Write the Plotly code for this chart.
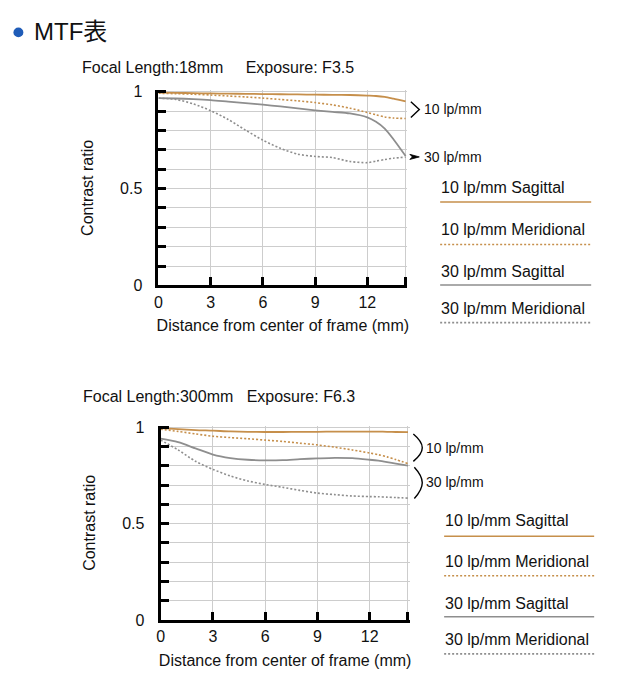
import plotly.graph_objects as go

W, H = 619, 700

# ---------------- data ----------------
distance = [0, 1, 2, 3, 4, 5, 6, 7, 8, 9, 10, 11, 12, 12.5, 13, 13.5, 14.2]

# Focal length 18mm, F3.5
wide_10_sag = [0.995, 0.994, 0.993, 0.991, 0.990, 0.989, 0.988, 0.987, 0.986, 0.985, 0.984, 0.983, 0.980, 0.978, 0.973, 0.964, 0.950]
wide_10_mer = [0.992, 0.990, 0.987, 0.983, 0.978, 0.973, 0.967, 0.960, 0.953, 0.944, 0.932, 0.915, 0.893, 0.881, 0.870, 0.864, 0.862]
wide_30_sag = [0.967, 0.965, 0.962, 0.957, 0.949, 0.941, 0.933, 0.924, 0.914, 0.904, 0.896, 0.888, 0.868, 0.845, 0.810, 0.755, 0.668]
wide_30_mer = [0.967, 0.960, 0.937, 0.902, 0.857, 0.802, 0.750, 0.708, 0.678, 0.666, 0.660, 0.640, 0.634, 0.642, 0.650, 0.657, 0.662]

# Focal length 300mm, F6.3
tele_10_sag = [0.995, 0.990, 0.985, 0.982, 0.978, 0.976, 0.975, 0.975, 0.976, 0.976, 0.977, 0.977, 0.977, 0.977, 0.976, 0.975, 0.974]
tele_10_mer = [0.990, 0.978, 0.965, 0.953, 0.946, 0.940, 0.933, 0.926, 0.917, 0.908, 0.896, 0.882, 0.866, 0.857, 0.846, 0.832, 0.811]
tele_30_sag = [0.940, 0.922, 0.890, 0.858, 0.840, 0.831, 0.828, 0.829, 0.834, 0.838, 0.841, 0.839, 0.831, 0.826, 0.819, 0.811, 0.800]
tele_30_mer = [0.933, 0.882, 0.823, 0.781, 0.747, 0.721, 0.703, 0.688, 0.672, 0.658, 0.650, 0.643, 0.640, 0.639, 0.637, 0.635, 0.632]

series_names = ["10 lp/mm Sagittal", "10 lp/mm Meridional", "30 lp/mm Sagittal", "30 lp/mm Meridional"]
x_tick_vals = [0, 3, 6, 9, 12, 14.2]
x_tick_text = ["0", "3", "6", "9", "12", ""]
y_tick_vals = [0, 0.1, 0.2, 0.3, 0.4, 0.5, 0.6, 0.7, 0.8, 0.9, 1.0]
y_tick_text = ["0", "", "", "", "", "0.5", "", "", "", "", "1"]
y_major_vals = [0.5, 1.0]
titles = ["Focal Length:18mm&nbsp;&nbsp;&nbsp;&nbsp; Exposure: F3.5",
          "Focal Length:300mm&nbsp;&nbsp; Exposure: F6.3"]

# ---------------- styles ----------------
ORANGE = "#c68f4b"
GRAY = "#8e8e8e"
GRID = "#cdcdcd"
INK = "#111111"
FONT = "Liberation Sans, Arial, sans-serif"
DOT = "2px,2px"
styles = [dict(color=ORANGE, dash="solid", width=1.8),
          dict(color=ORANGE, dash=DOT, width=1.6),
          dict(color=GRAY, dash="solid", width=1.8),
          dict(color=GRAY, dash=DOT, width=1.6)]

X_MAX, Y_MAX = 14.29, 1.0076   # a hair beyond the last grid lines so they are drawn


def px(x):
    return x / W


def py(y):
    return (H - y) / H


fig = go.Figure()

panels = [
    dict(data=[wide_10_sag, wide_10_mer, wide_30_sag, wide_30_mer], xs="x", ys="y",
         xdom=[px(155.5), px(405.8)], ydom=[py(285), py(85.2)]),
    dict(data=[tele_10_sag, tele_10_mer, tele_30_sag, tele_30_mer], xs="x2", ys="y2",
         xdom=[px(157.7), px(408.2)], ydom=[py(627.3), py(428.5)]),
]

for p in panels:
    for name, vals, st in zip(series_names, p["data"], styles):
        fig.add_trace(go.Scatter(x=distance, y=vals, mode="lines", name=name,
                                 line=dict(color=st["color"], dash=st["dash"], width=st["width"],
                                           shape="spline", smoothing=0.8),
                                 xaxis=p["xs"], yaxis=p["ys"], showlegend=False,
                                 hoverinfo="skip"))

axis_common_x = dict(range=[0, X_MAX], tickvals=x_tick_vals, ticktext=x_tick_text,
                     ticks="inside", ticklen=8, tickwidth=2.5, tickcolor="black",
                     showline=True, linewidth=3, linecolor="black",
                     showgrid=True, gridcolor=GRID, gridwidth=1, zeroline=False,
                     tickfont=dict(family=FONT, size=16, color=INK),
                     title=dict(text="Distance from center of frame (mm)",
                                font=dict(family=FONT, size=16, color=INK), standoff=11))
axis_common_y = dict(range=[0, Y_MAX], tickvals=y_tick_vals, ticktext=y_tick_text,
                     ticks="inside", ticklen=8, tickwidth=2.5, tickcolor="black",
                     showline=True, linewidth=3, linecolor="black",
                     showgrid=True, gridcolor=GRID, gridwidth=1, zeroline=False,
                     tickfont=dict(family=FONT, size=16, color=INK),
                     ticklabelstandoff=10,
                     title=dict(text="Contrast ratio",
                                font=dict(family=FONT, size=16, color=INK), standoff=23))
axis_major_y = dict(range=[0, Y_MAX], tickvals=y_major_vals,
                    ticks="inside", ticklen=16, tickwidth=2.5, tickcolor="black",
                    showticklabels=False, showline=False, showgrid=False, zeroline=False)

fig.update_layout(
    width=W, height=H, margin=dict(l=0, r=0, t=0, b=0),
    paper_bgcolor="white", plot_bgcolor="white",
    xaxis=dict(axis_common_x, domain=panels[0]["xdom"], anchor="y"),
    yaxis=dict(axis_common_y, domain=panels[0]["ydom"], anchor="x"),
    yaxis3=dict(axis_major_y, domain=panels[0]["ydom"], anchor="x", overlaying="y", side="left"),
    xaxis2=dict(axis_common_x, domain=panels[1]["xdom"], anchor="y2"),
    yaxis2=dict(axis_common_y, domain=panels[1]["ydom"], anchor="x2"),
    yaxis4=dict(axis_major_y, domain=panels[1]["ydom"], anchor="x2", overlaying="y2", side="left"),
)

ann = []
shapes = []
DX = -3  # compensation for annotation box padding

# header
shapes.append(dict(type="circle", xref="paper", yref="paper",
                   x0=px(9.5), x1=px(19.5), y0=py(31), y1=py(21),
                   fillcolor="#1f5cb8", line=dict(width=0)))
ann.append(dict(text="MTF表", x=px(31 + DX), y=py(25), xref="paper", yref="paper",
                xanchor="left", yanchor="middle", showarrow=False,
                font=dict(family="Liberation Sans, Noto Sans CJK JP, sans-serif", size=24, color=INK)))

# panel titles
for t, (tx, ty) in zip(titles, [(81, 62), (83, 399)]):
    ann.append(dict(text=t, x=px(tx + DX - 2), y=py(ty), xref="paper", yref="paper",
                    xanchor="left", yanchor="middle", showarrow=False,
                    font=dict(family=FONT, size=16, color=INK)))

# legends (text above a sample line)
legend_pos = [
    dict(x0=439, x1=591, text_y=[185, 228, 270.5, 309], line_y=[199.5, 243, 284.5, 323]),
    dict(x0=443, x1=594, text_y=[526, 567, 610, 647], line_y=[541.7, 582, 624, 662]),
]
for lp in legend_pos:
    for name, ty, ly, st in zip(series_names, lp["text_y"], lp["line_y"], styles):
        ann.append(dict(text=name, x=px(lp["x0"] + 2 + DX), y=py(ty), xref="paper", yref="paper",
                        xanchor="left", yanchor="middle", showarrow=False,
                        font=dict(family=FONT, size=16, color=INK)))
        shapes.append(dict(type="line", xref="paper", yref="paper",
                           x0=px(lp["x0"]), x1=px(lp["x1"]), y0=py(ly), y1=py(ly),
                           line=dict(color=st["color"], dash=st["dash"], width=1.6)))

# frequency markers, top panel
def path(points, close=False):
    s = "M " + " L ".join(f"{px(a):.5f},{py(b):.5f}" for a, b in points)
    return s + (" Z" if close else "")

shapes.append(dict(type="path", xref="paper", yref="paper",
                   path=path([(409.5, 97), (418, 105), (409.5, 113)]),
                   line=dict(color="black", width=1.4)))
ann.append(dict(text="10 lp/mm", x=px(424 + DX), y=py(104.5), xref="paper", yref="paper",
                xanchor="left", yanchor="middle", showarrow=False,
                font=dict(family=FONT, size=14, color=INK)))
shapes.append(dict(type="path", xref="paper", yref="paper",
                   path=path([(408.5, 150.8), (418, 153.4), (408.5, 156), (411, 153.4)], close=True),
                   fillcolor="black", line=dict(color="black", width=0.8)))
ann.append(dict(text="30 lp/mm", x=px(424 + DX), y=py(153.4), xref="paper", yref="paper",
                xanchor="left", yanchor="middle", showarrow=False,
                font=dict(family=FONT, size=14, color=INK)))

# frequency markers, bottom panel (curved braces)
def brace(xl, xt, y0, ym, y1):
    return (f"M {px(xl):.5f},{py(y0):.5f} Q {px(xt):.5f},{py(y0 + (ym - y0) * 0.55):.5f} {px(xt):.5f},{py(ym):.5f} "
            f"Q {px(xt):.5f},{py(y1 - (y1 - ym) * 0.55):.5f} {px(xl):.5f},{py(y1):.5f}")

shapes.append(dict(type="path", xref="paper", yref="paper",
                   path=brace(412, 421, 437, 451, 465), line=dict(color="black", width=1.4)))
shapes.append(dict(type="path", xref="paper", yref="paper",
                   path=brace(413, 421, 471, 487, 503), line=dict(color="black", width=1.4)))
ann.append(dict(text="10 lp/mm", x=px(426 + DX), y=py(451.5), xref="paper", yref="paper",
                xanchor="left", yanchor="middle", showarrow=False,
                font=dict(family=FONT, size=14, color=INK)))
ann.append(dict(text="30 lp/mm", x=px(426 + DX), y=py(486.5), xref="paper", yref="paper",
                xanchor="left", yanchor="middle", showarrow=False,
                font=dict(family=FONT, size=14, color=INK)))

fig.update_layout(annotations=ann, shapes=shapes)

fig.write_html("out.html")
